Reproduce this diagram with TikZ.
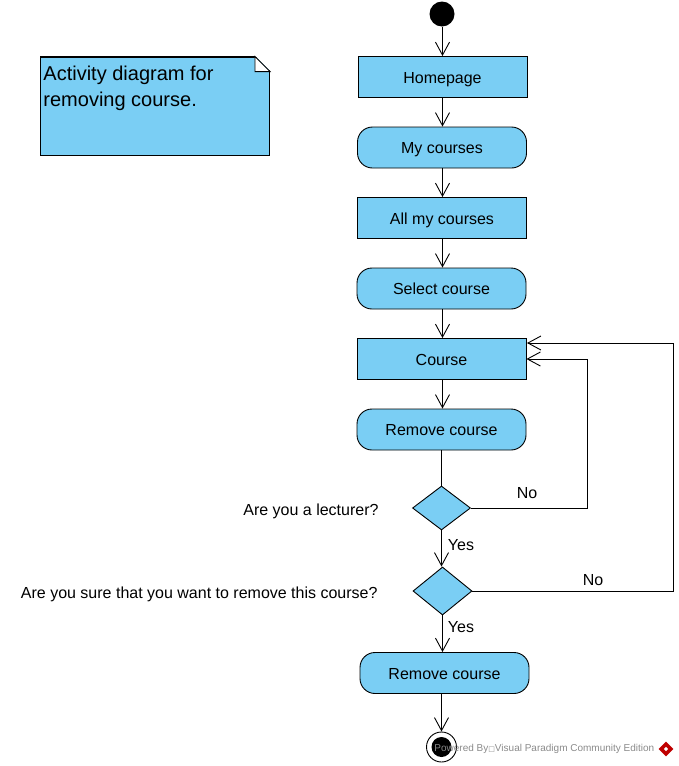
\documentclass[tikz,border=0pt]{standalone}
\usepackage{fontspec}
\setmainfont{Liberation Sans}
\newfontfamily\simboli{DejaVu Sans}
\usetikzlibrary{arrows.meta,calc,shapes.geometric}
\definecolor{azzurro}{HTML}{7ACEF4}
\definecolor{filigrana}{HTML}{8A8A8A}
\tikzset{
>={Straight Barb[length=13pt,width=14pt]},
node distance=70.5pt,
azione/.style={rectangle,draw,fill=azzurro,minimum width=169pt,minimum height=41pt,inner sep=0pt,text height=12pt,text depth=0pt,font=\fontsize{16}{19}\selectfont},
attivita/.style={azione,rounded corners=15pt},
scelta/.style={diamond,draw,fill=azzurro,minimum width=59pt,minimum height=46pt,inner sep=0pt},
etichetta/.style={inner sep=0pt,font=\fontsize{16}{19}\selectfont},
freccia/.style={->,line width=0.9pt}}

\begin{document}
\begin{tikzpicture}[x=1pt,y=-1pt,line width=0.9pt]

\useasboundingbox (0,0) rectangle (678,766);

\node[circle,fill=black,minimum size=25pt,inner sep=0pt] (inizio) at (442,14) {};
\node[azione] (homepage) at (442.5,77) {Homepage};
\node[attivita,below of=homepage,xshift=-0.5pt] (mycourses) {My courses};
\node[azione,below of=mycourses] (allcourses) {All my courses};
\node[attivita,below of=allcourses,xshift=-0.5pt] (select) {Select course};
\node[azione,below of=select] (course) {Course};
\node[attivita,below of=course] (remove) {Remove course};
\node[scelta,minimum width=58pt,minimum height=44pt] (lecturer) at (441.5,508) {};
\node[scelta,minimum height=48pt] (sure) at (442.5,591) {};
\node[attivita,xshift=2.5pt] (removed) at (442,673) {Remove course};
\node[circle,draw,minimum size=30pt,inner sep=0pt] (fine) at (441.5,747) {};
\node[circle,fill=black,minimum size=20pt,inner sep=0pt] (finedot) at (fine) {};

\node[rectangle,draw,fill=azzurro,minimum width=229pt,minimum height=98pt,inner sep=0pt] (nota) at (155,106) {};
\fill[white] ($(nota.north east)+(-15,-1)$) -- ($(nota.north east)+(1,-1)$) -- ($(nota.north east)+(1,15)$) -- cycle;
\filldraw[fill=white] ($(nota.north east)+(-15,0)$) -- ($(nota.north east)+(0,15)$) -- ($(nota.north east)+(-15,15)$) -- cycle;
\draw ($(nota.north east)+(-15,0)$) -- (nota.north west);
\node[anchor=north west,align=left,inner sep=0pt,font=\fontsize{20}{26}\selectfont] (titolo) at (43,66) {Activity diagram for\\removing course.};

\node[etichetta,anchor=east] (domanda1) at (379,511) {Are you a lecturer?};
\node[etichetta,anchor=east] (domanda2) at (378,594) {Are you sure that you want to remove this course?};
\node[etichetta] (no1) at (527,493.5) {No};
\node[etichetta] (yes1) at (461,545.5) {Yes};
\node[etichetta] (no2) at (593,580.5) {No};
\node[etichetta] (yes2) at (461,627.5) {Yes};

\coordinate (ritorno1) at (587,359);
\coordinate (ritorno2) at (673,343);
\coordinate (ingresso) at (527,343);

\path[freccia]
	(inizio.south -| homepage) edge (homepage.north -| homepage)
	(homepage.south -| homepage) edge (mycourses.north -| homepage)
	(mycourses.south -| homepage) edge (allcourses.north -| homepage)
	(allcourses.south -| homepage) edge (select.north -| homepage)
	(select.south -| homepage) edge (course.north -| homepage)
	(course.south -| homepage) edge (remove.north -| homepage)
	(lecturer) edge (lecturer |- sure.north)
	(sure) edge (sure |- removed.north)
	(fine |- removed.south) edge (fine);
\draw (remove.south -| lecturer) -- (lecturer.north);
\draw[freccia] (lecturer.east) -| (ritorno1) -- (course.east);
\draw[freccia] (sure.east) -| (ritorno2) -- (ingresso);

\node[anchor=west,inner sep=0pt,text=filigrana,font=\fontsize{10}{12}\selectfont] (filigrana) at (434,749) {Powered By{\simboli\fontsize{7}{8}\selectfont □}Visual Paradigm Community Edition};
\node[diamond,fill=red!75!black,minimum size=15pt,inner sep=0pt] (logo) at (666,749) {};
\node[rectangle,fill=white,minimum size=3pt,inner sep=0pt,rotate=45] (logopunto) at (logo) {};
\end{tikzpicture}
\end{document}
